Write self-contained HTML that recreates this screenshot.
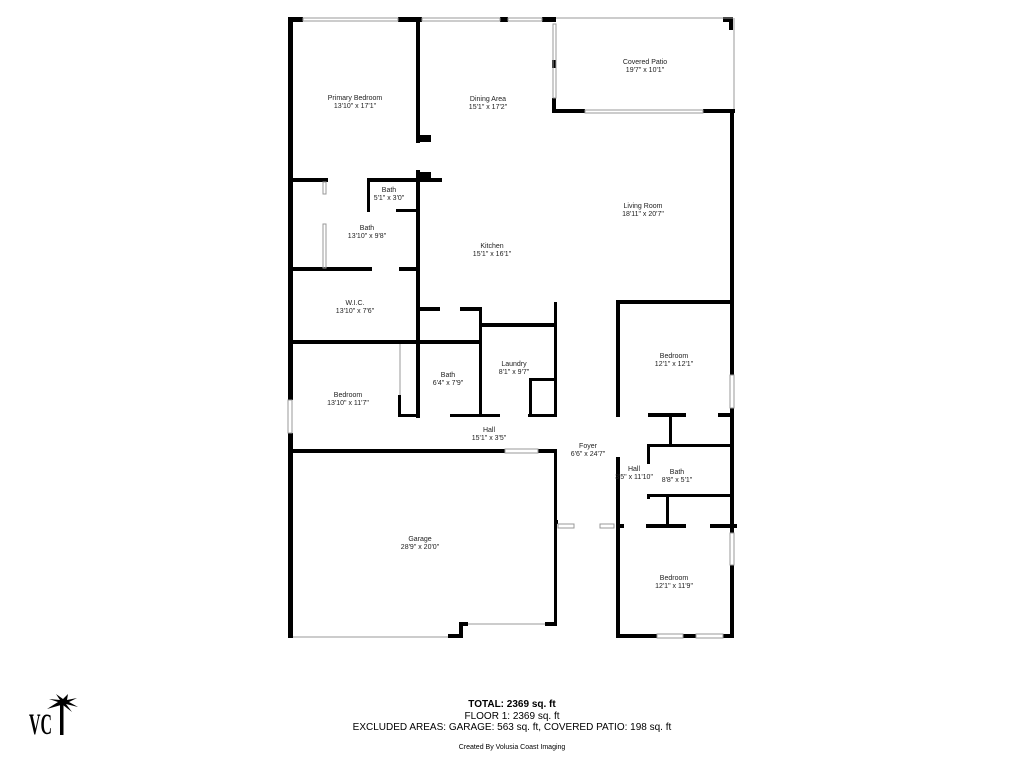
<!DOCTYPE html>
<html><head><meta charset="utf-8"><style>
html,body{margin:0;padding:0;background:#fff;}
svg{display:block;}
text{font-family:"Liberation Sans",sans-serif;fill:#222;}
.l{font-size:7px;text-anchor:middle;}
</style></head><body>
<svg width="1024" height="768" viewBox="0 0 1024 768" xmlns="http://www.w3.org/2000/svg">
<g fill="#000">
<rect x="288" y="17" width="15" height="5"/>
<rect x="398" y="17" width="24" height="5"/>
<rect x="500" y="17" width="8" height="5"/>
<rect x="542" y="17" width="14" height="5"/>
<rect x="548" y="17" width="2" height="5"/>
<rect x="288" y="17" width="5" height="383"/>
<rect x="288" y="433" width="5" height="205"/>
<rect x="416" y="17" width="4" height="126"/>
<rect x="416" y="170" width="4" height="248"/>
<rect x="416" y="135" width="15" height="7"/>
<rect x="416" y="172" width="15" height="7"/>
<rect x="288" y="178" width="40" height="4"/>
<rect x="367" y="178" width="75" height="4"/>
<rect x="367" y="178" width="3" height="34"/>
<rect x="396" y="209" width="22" height="3"/>
<rect x="288" y="267" width="84" height="4"/>
<rect x="399" y="267" width="19" height="4"/>
<rect x="288" y="340" width="193" height="4"/>
<rect x="418" y="307" width="22" height="4"/>
<rect x="460" y="307" width="22" height="4"/>
<rect x="479" y="307" width="3" height="110"/>
<rect x="479" y="323" width="78" height="4"/>
<rect x="554" y="302" width="3" height="115"/>
<rect x="398" y="395" width="3" height="22"/>
<rect x="398" y="414" width="20" height="3"/>
<rect x="450" y="414" width="50" height="3"/>
<rect x="528" y="414" width="29" height="3"/>
<rect x="529" y="378" width="28" height="3"/>
<rect x="529" y="378" width="3" height="38"/>
<rect x="288" y="449" width="217" height="4"/>
<rect x="538" y="449" width="19" height="4"/>
<rect x="554" y="449" width="3" height="176"/>
<rect x="448" y="634" width="15" height="4"/>
<rect x="459" y="622" width="4" height="16"/>
<rect x="459" y="622" width="9" height="4"/>
<rect x="545" y="622" width="12" height="4"/>
<rect x="554" y="520" width="4" height="4"/>
<rect x="552" y="60" width="4" height="8"/>
<rect x="552" y="98" width="4" height="15"/>
<rect x="552" y="109" width="33" height="4"/>
<rect x="703" y="109" width="32" height="4"/>
<rect x="723" y="17" width="10" height="5"/>
<rect x="729" y="17" width="4" height="13"/>
<rect x="730" y="109" width="4" height="266"/>
<rect x="730" y="408" width="4" height="125"/>
<rect x="730" y="565" width="4" height="73"/>
<rect x="616" y="300" width="118" height="4"/>
<rect x="616" y="300" width="4" height="117"/>
<rect x="616" y="457" width="4" height="181"/>
<rect x="648" y="413" width="38" height="4"/>
<rect x="718" y="413" width="16" height="4"/>
<rect x="669" y="413" width="3" height="33"/>
<rect x="648" y="444" width="86" height="3"/>
<rect x="647" y="444" width="3" height="20"/>
<rect x="647" y="494" width="87" height="3"/>
<rect x="647" y="494" width="3" height="5"/>
<rect x="666" y="494" width="3" height="33"/>
<rect x="646" y="524" width="40" height="4"/>
<rect x="710" y="524" width="27" height="4"/>
<rect x="616" y="524" width="8" height="4"/>
<rect x="616" y="634" width="41" height="4"/>
<rect x="683" y="634" width="13" height="4"/>
<rect x="723" y="634" width="11" height="4"/>
</g>
<g fill="none" stroke="#999" stroke-width="1">
<rect x="303" y="18" width="95" height="3"/>
<rect x="422" y="18" width="78" height="3"/>
<rect x="508" y="18" width="34" height="3"/>
<rect x="553" y="24" width="3" height="74"/>
<line x1="556" y1="18" x2="733" y2="18"/>
<line x1="734" y1="18" x2="734" y2="109"/>
<rect x="585" y="110" width="118" height="3"/>
<rect x="323" y="182" width="3" height="12"/>
<rect x="323" y="224" width="3" height="44"/>
<rect x="288" y="400" width="4" height="33"/>
<rect x="730" y="375" width="4" height="33"/>
<rect x="730" y="533" width="4" height="32"/>
<rect x="657" y="634" width="26" height="4"/>
<rect x="696" y="634" width="27" height="4"/>
<rect x="505" y="449" width="33" height="4"/>
<rect x="558" y="524" width="16" height="4"/>
<rect x="600" y="524" width="14" height="4"/>
<line x1="293" y1="637" x2="448" y2="637"/>
<line x1="468" y1="624" x2="545" y2="624"/>
<line x1="400" y1="344" x2="400" y2="395"/>
</g>
<text class="l" x="355" y="100">Primary Bedroom</text><text class="l" x="355" y="108">13'10" x 17'1"</text>
<text class="l" x="488" y="101">Dining Area</text><text class="l" x="488" y="109">15'1" x 17'2"</text>
<text class="l" x="645" y="64">Covered Patio</text><text class="l" x="645" y="72">19'7" x 10'1"</text>
<text class="l" x="389" y="192">Bath</text><text class="l" x="389" y="200">5'1" x 3'0"</text>
<text class="l" x="367" y="230">Bath</text><text class="l" x="367" y="238">13'10" x 9'8"</text>
<text class="l" x="643" y="208">Living Room</text><text class="l" x="643" y="216">18'11" x 20'7"</text>
<text class="l" x="492" y="248">Kitchen</text><text class="l" x="492" y="256">15'1" x 16'1"</text>
<text class="l" x="355" y="305">W.I.C.</text><text class="l" x="355" y="313">13'10" x 7'6"</text>
<text class="l" x="674" y="358">Bedroom</text><text class="l" x="674" y="366">12'1" x 12'1"</text>
<text class="l" x="448" y="377">Bath</text><text class="l" x="448" y="385">6'4" x 7'9"</text>
<text class="l" x="514" y="366">Laundry</text><text class="l" x="514" y="374">8'1" x 9'7"</text>
<text class="l" x="348" y="397">Bedroom</text><text class="l" x="348" y="405">13'10" x 11'7"</text>
<text class="l" x="489" y="432">Hall</text><text class="l" x="489" y="440">15'1" x 3'5"</text>
<text class="l" x="588" y="448">Foyer</text><text class="l" x="588" y="456">6'6" x 24'7"</text>
<text class="l" x="634" y="471">Hall</text><text class="l" x="634" y="479">3'5" x 11'10"</text>
<text class="l" x="677" y="474">Bath</text><text class="l" x="677" y="482">8'8" x 5'1"</text>
<text class="l" x="420" y="541">Garage</text><text class="l" x="420" y="549">28'9" x 20'0"</text>
<text class="l" x="674" y="580">Bedroom</text><text class="l" x="674" y="588">12'1" x 11'9"</text>
<g>
<text x="29" y="734" style="font-family:'Liberation Serif',serif;font-weight:bold;font-size:30px;fill:#000;" textLength="23" lengthAdjust="spacingAndGlyphs">VC</text>
<rect x="60" y="705" width="3.5" height="30" fill="#000"/>
<path d="M61 705 L47 709 L58 702 L49 699 L60 700 L56 694 L63 699 L68 694 L67 700 L77 698 L69 702 L78 707 L66 704 L72 712 L63 705 Z" fill="#000"/>
</g>
<text x="512" y="707" style="font-size:10px;font-weight:bold;text-anchor:middle;fill:#000;">TOTAL: 2369 sq. ft</text>
<text x="512" y="719" style="font-size:10px;text-anchor:middle;fill:#000;">FLOOR 1: 2369 sq. ft</text>
<text x="512" y="730" style="font-size:10px;text-anchor:middle;fill:#000;">EXCLUDED AREAS: GARAGE: 563 sq. ft, COVERED PATIO: 198 sq. ft</text>
<text x="512" y="749" style="font-size:7px;text-anchor:middle;fill:#000;">Created By Volusia Coast Imaging</text>
</svg>
</body></html>
